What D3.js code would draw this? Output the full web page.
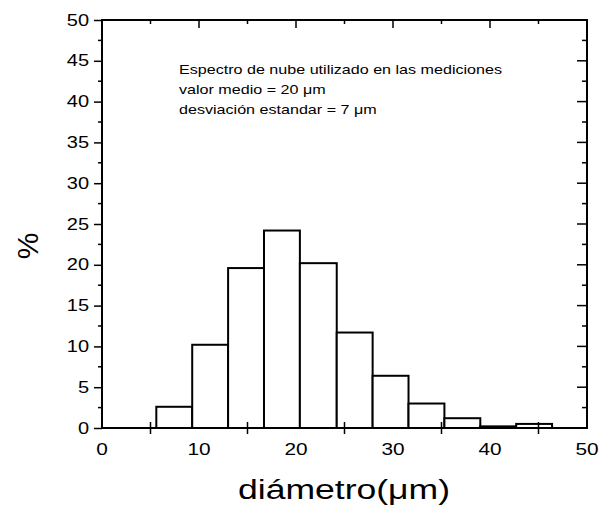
<!DOCTYPE html>
<html>
<head>
<meta charset="utf-8">
<script src="https://cdn.jsdelivr.net/npm/d3@7"></script>
<style>
  html, body { margin: 0; padding: 0; background: #fff; }
  svg { display: block; font-family: "Liberation Sans", Arial, sans-serif; }
</style>
</head>
<body>
<svg id="chart" width="603" height="510"></svg>
<script>
// ---- data ----
const binEdges = [5.6, 9.3, 13.0, 16.7, 20.4, 24.2, 27.9, 31.6, 35.3, 39.0, 42.7, 46.4];
const percents = [2.6, 10.2, 19.6, 24.2, 20.2, 11.7, 6.4, 3.0, 1.2, 0.2, 0.5];
const xTickLabels = [0, 10, 20, 30, 40, 50];
const yTickLabels = [0, 5, 10, 15, 20, 25, 30, 35, 40, 45, 50];
const noteLines = [
  "Espectro de nube utilizado en las mediciones",
  "valor medio = 20 μm",
  "desviación estandar = 7 μm"
];
const xTitle = "diámetro(μm)";
const yTitle = "%";

// ---- layout ----
const svg = d3.select("#chart");
const x = d3.scaleLinear().domain([0, 50]).range([102, 587]);
const y = d3.scaleLinear().domain([0, 50]).range([428, 20]);
const stretch = 1.3;

function stretchText(sel, k) {
  sel.each(function () {
    const w = this.getComputedTextLength();
    d3.select(this).attr("textLength", w * k).attr("lengthAdjust", "spacingAndGlyphs");
  });
}

// bars
const bins = percents.map((v, i) => ({ x0: binEdges[i], x1: binEdges[i + 1], v }));
svg.append("g").selectAll("rect").data(bins).join("rect")
  .attr("x", d => x(d.x0))
  .attr("y", d => y(d.v))
  .attr("width", d => x(d.x1) - x(d.x0))
  .attr("height", d => y(0) - y(d.v))
  .attr("fill", "#fff")
  .attr("stroke", "#000")
  .attr("stroke-width", 2);

// left axis (outward ticks)
const minorY = d3.range(0, 50.01, 2.5);
const gl = svg.append("g").attr("transform", `translate(${x(0)},0)`)
  .call(d3.axisLeft(y).tickValues(yTickLabels).tickSize(8).tickPadding(5).tickFormat(d3.format("d")));
gl.select(".domain").remove();
gl.selectAll("line").attr("stroke-width", 1.5);
gl.selectAll("text").attr("font-size", 16).attr("fill", "#000");
stretchText(gl.selectAll("text"), 1.25);
svg.append("g").selectAll("line").data(minorY.filter(v => v % 5 !== 0)).join("line")
  .attr("x1", x(0) - 4).attr("x2", x(0)).attr("y1", d => y(d)).attr("y2", d => y(d))
  .attr("stroke", "#000").attr("stroke-width", 1.5);

// right axis (inward ticks)
svg.append("g").selectAll("line").data(minorY).join("line")
  .attr("x1", d => x(50) - (d % 5 === 0 ? 10 : 5)).attr("x2", x(50))
  .attr("y1", d => y(d)).attr("y2", d => y(d))
  .attr("stroke", "#000").attr("stroke-width", 1.5);

// top axis (inward ticks every 5)
svg.append("g").selectAll("line").data(d3.range(5, 50, 5)).join("line")
  .attr("x1", d => x(d)).attr("x2", d => x(d))
  .attr("y1", y(50)).attr("y2", d => y(50) + (d % 10 === 0 ? 8 : 4))
  .attr("stroke", "#000").attr("stroke-width", 1.5);

// bottom axis: crossing ticks at 5,15,...,45 and labels at 0,10,...,50
svg.append("g").selectAll("line").data(d3.range(5, 50, 10)).join("line")
  .attr("x1", d => x(d)).attr("x2", d => x(d))
  .attr("y1", y(0) - 6).attr("y2", y(0) + 6)
  .attr("stroke", "#000").attr("stroke-width", 1.5);
const bl = svg.append("g").selectAll("text").data(xTickLabels).join("text")
  .attr("x", d => x(d)).attr("y", 455)
  .attr("text-anchor", "middle").attr("font-size", 16).attr("fill", "#000")
  .text(d => d);
stretchText(bl, 1.3);

// frame
svg.append("rect")
  .attr("x", x(0)).attr("y", y(50))
  .attr("width", x(50) - x(0)).attr("height", y(0) - y(50))
  .attr("fill", "none").attr("stroke", "#000").attr("stroke-width", 2);

// note
const note = svg.append("g").selectAll("text").data(noteLines).join("text")
  .attr("x", 179).attr("y", (d, i) => 74 + i * 20)
  .attr("font-size", 13.5).attr("fill", "#000")
  .text(d => d);
let k = 1;
note.each(function (d, i) { if (i === 0) k = 323 / this.getComputedTextLength(); });
stretchText(note, k);

// axis titles
const xt = svg.append("text")
  .attr("x", 344).attr("y", 499)
  .attr("text-anchor", "middle").attr("font-size", 27).attr("fill", "#000")
  .text(xTitle);
xt.attr("textLength", 212).attr("lengthAdjust", "spacingAndGlyphs");

svg.append("text")
  .attr("transform", "translate(38,246) rotate(-90)")
  .attr("text-anchor", "middle").attr("font-size", 30).attr("fill", "#000")
  .text(yTitle);
</script>
</body>
</html>
